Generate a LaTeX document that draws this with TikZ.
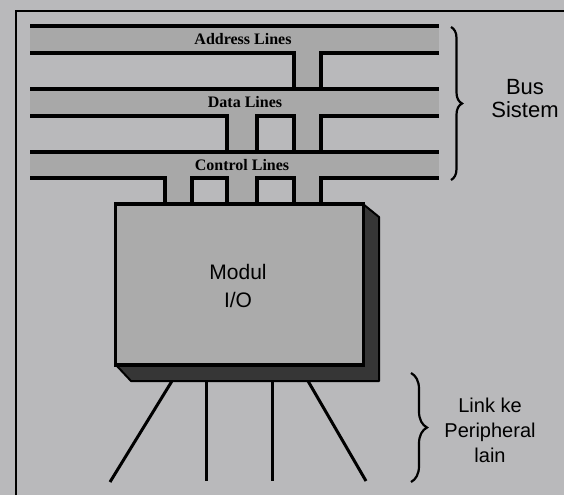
\documentclass[tikz,border=0pt]{standalone}
\usepackage{fontspec}
\setmainfont{Liberation Serif}
\newfontfamily\labelsans{Liberation Sans}
\usetikzlibrary{decorations.pathreplacing}
\definecolor{bgc}{HTML}{B9B9BB}
\definecolor{bandc}{HTML}{A8A8A8}
\definecolor{boxc}{HTML}{ABABAB}
\definecolor{shadec}{HTML}{363636}
\begin{document}
\begin{tikzpicture}[x=1pt,y=-1pt,
  busline/.style={line width=3.4pt, line join=miter, black},
  framestyle/.style={line width=2.6pt, black},
  bandfill/.style={fill=bandc, draw=none},
  buslabel/.style={font=\bfseries\fontsize{16}{18}\selectfont, inner sep=0pt},
  sidelabel/.style={font=\labelsans\fontsize{21}{24}\selectfont, align=center, inner sep=0pt},
  periph/.style={line width=3pt, black},
  bracestyle/.style={decorate, line width=2.2pt, black}]
% background and bounds
\fill[bgc] (0,0) rectangle (564,495);
\useasboundingbox (0,0) rectangle (564,495);
% frame
\draw[framestyle] (16,495) -- (16,11) -- (564,11);
% stub fills
\fill[bandc] (294,53) rectangle (321,205);
\fill[bandc] (227,116) rectangle (257,205);
\fill[bandc] (165,178) rectangle (192,205);
% bands
\fill[bandfill] (30,26) rectangle (439,53);
\fill[bandfill] (30,89) rectangle (439,116);
\fill[bandfill] (30,152) rectangle (439,178);
% top lines
\draw[busline] (30,26) -- (439,26);
\draw[busline] (30,89) -- (439,89);
\draw[busline] (30,152) -- (439,152);
% address bottom
\draw[busline] (30,53) -| (294,89);
\draw[busline] (439,53) -| (321,89);
% data bottom
\draw[busline] (30,116) -| (227,152);
\draw[busline] (257,152) |- (294,116) -- (294,152);
\draw[busline] (439,116) -| (321,152);
% control bottom
\draw[busline] (30,178) -| (165,204);
\draw[busline] (192,204) |- (227,178) -- (227,204);
\draw[busline] (257,204) |- (294,178) -- (294,204);
\draw[busline] (321,204) |- (439,178);
% labels in bus
\node[buslabel] (al) at (243,39.5) {Address Lines};
\node[buslabel] (dl) at (245,102.5) {Data Lines};
\node[buslabel] (cl) at (242,165) {Control Lines};
% shadow and box
\fill[shadec, draw=black, line width=2pt, line join=round] (363,204) -- (379,217) -- (379,381) -- (131,381) -- (116,365) -- cycle;
\node[draw=black, line width=3.4pt, fill=boxc, minimum width=248pt, minimum height=161pt, inner sep=0pt] (io) at (239.5,284.5) {};
\node[font=\labelsans\fontsize{21}{28}\selectfont, align=center, inner sep=0pt] (iotext) at (238,286) {Modul\\I/O};
% peripheral links
\coordinate (s1) at (172,381); \coordinate (e1) at (110,482);
\coordinate (s2) at (206,381); \coordinate (e2) at (206,481);
\coordinate (s3) at (272,381); \coordinate (e3) at (272,481);
\coordinate (s4) at (308,381); \coordinate (e4) at (366,481);
\draw[periph] (s1) -- (e1);
\draw[periph] (s2) -- (e2);
\draw[periph] (s3) -- (e3);
\draw[periph] (s4) -- (e4);
% braces
\coordinate (b1t) at (451,27); \coordinate (b1b) at (451,180);
\draw[bracestyle, decoration={brace, amplitude=11pt}] (b1t) -- (b1b);
\coordinate (b2t) at (411,373); \coordinate (b2b) at (411,482);
\draw[bracestyle, decoration={brace, amplitude=16pt}] (b2t) -- (b2b);
% side labels
\node[sidelabel, font=\labelsans\fontsize{22}{23}\selectfont] (bus) at (525,98.5) {Bus\\Sistem};
\node[sidelabel, font=\labelsans\fontsize{20}{25}\selectfont] (link) at (490,430) {Link ke\\Peripheral\\lain};
\end{tikzpicture}
\end{document}
